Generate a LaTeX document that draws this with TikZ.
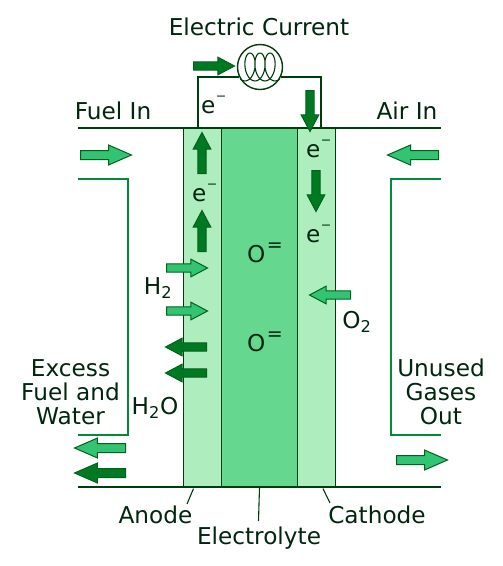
\documentclass[tikz,border=0pt]{standalone}
\usepackage{fontspec}
\setmainfont{DejaVu Sans}
\usetikzlibrary{shapes.arrows}
\definecolor{inkgreen}{HTML}{00260E}
\definecolor{linegreen}{HTML}{003D0C}
\definecolor{wallgreen}{HTML}{008A3A}
\definecolor{layerlight}{HTML}{AEEDBE}
\definecolor{layermid}{HTML}{66D78F}
\definecolor{arrowlight}{HTML}{33C473}
\definecolor{arrowdark}{HTML}{007A22}
\newcommand{\electron}{e\hspace{0.5pt}\raisebox{13pt}{\fontsize{12.5}{12.5}\selectfont −}}
\newcommand{\oxide}{O\hspace{1.5pt}\raisebox{11pt}{\fontsize{19}{19}\selectfont =}}
\begin{document}
\begin{tikzpicture}[
    x=1pt,y=-1pt,
    label/.style={text=inkgreen, font=\fontsize{23.2}{24}\selectfont, inner sep=0pt, align=center},
    charge/.style={label, anchor=base west},
    wire/.style={line width=1.6pt, draw=linegreen},
    thin wire/.style={line width=1.1pt, draw=linegreen},
    wall/.style={line width=1.6pt, draw=wallgreen},
    layer/.style={draw=linegreen, line width=1.2pt, minimum height=359pt, inner sep=0pt},
    flow/.style={
        shape=single arrow,
        anchor=tail,
        draw=arrowdark!80!black,
        line width=1pt,
        inner sep=0pt,
        inner ysep=3.6pt,
        minimum height=41pt,
        minimum width=17pt,
        single arrow head extend=4.7pt,
        single arrow tip angle=56
    },
    gas/.style={flow, fill=arrowlight},
    prod/.style={flow, fill=arrowdark},
    long/.style={
        minimum height=51pt,
        minimum width=19pt,
        inner ysep=4pt,
        single arrow head extend=5.5pt,
        single arrow tip angle=47
    }
]
    \useasboundingbox (0,0) rectangle (503,566);

    % cell layers
    \node[layer, fill=layerlight, minimum width=38pt] (anode) at (202.5,307.5) {};
    \node[layer, fill=layerlight, minimum width=38pt] (cathode) at (316.5,307.5) {};
    \node[layer, fill=layermid, minimum width=76pt] (electrolyte) at (259.5,307.5) {};

    % plates and walls
    \coordinate (fuelend) at (78,128);
    \coordinate (airend) at (441,128);
    \coordinate (exitL) at (78,487);
    \coordinate (exitR) at (441,487);
    \draw[wire] (fuelend) -- (airend);
    \draw[wire] (exitL) -- (exitR);
    \draw[wall] (78,179) -- (128,179) -- (128,435) -- (78,435);
    \draw[wall] (441,179) -- (391,179) -- (391,435) -- (441,435);

    % external circuit
    \node[circle, draw=linegreen, line width=1.4pt, fill=white, minimum size=45pt, inner sep=0pt] (meter) at (260,67) {};
    \coordinate (wireL) at (198,128);
    \coordinate (wireR) at (321,128);
    \draw[wire] (wireL) |- (meter.206);
    \draw[wire] (wireR) |- (meter.334);
    \draw[thin wire] plot[smooth, domain=150:1290, samples=80]
        ({240+\x/36-7.5*sin(\x)}, {67-14*cos(\x)});

    % electron arrows
    \node[prod] (arrowtop) at (193,66) {};
    \node[prod, rotate=-90] (arrowin) at (310,90) {};
    \node[prod, rotate=90] (arrowup1) at (202,174) {};
    \node[prod, rotate=90] (arrowup2) at (202,252) {};
    \node[prod, rotate=-90] (arrowdown) at (316,170) {};

    % gas arrows
    \node[gas] (h2a) at (166,268) {};
    \node[gas] (h2b) at (166,311) {};
    \node[prod, rotate=180] (wa) at (207,347) {};
    \node[prod, rotate=180] (wb) at (207,373) {};
    \node[gas, rotate=180] (o2arrow) at (351,295) {};
    \node[gas, long] (fuelarrow) at (80,155) {};
    \node[gas, long, rotate=180] (airarrow) at (439,155) {};
    \node[gas, long, rotate=180] (outa) at (126,448) {};
    \node[prod, long, rotate=180] (outb) at (126,473) {};
    \node[gas, long] (outc) at (396,460) {};

    % labels
    \node[label] (current) at (259,27) {Electric Current};
    \node[label] (fuelin) at (113,111) {Fuel In};
    \node[label] (airin) at (407,111) {Air In};
    \node[charge] (e1) at (201,113) {\electron};
    \node[charge] (e2) at (306,157) {\electron};
    \node[charge] (e3) at (192,201) {\electron};
    \node[charge] (e4) at (306,242) {\electron};
    \node[charge] (o1) at (247,262) {\oxide};
    \node[charge] (o2) at (247,351) {\oxide};
    \node[label] (h2) at (158,288) {H\textsubscript{2}};
    \node[label] (o2gas) at (357,322) {O\textsubscript{2}};
    \node[label] (h2o) at (155,408) {H\textsubscript{2}O};
    \node[label] (excess) at (70.5,392) {Excess\\Fuel and\\Water};
    \node[label] (unused) at (441,392) {Unused\\Gases\\Out};
    \node[label] (anodetext) at (155.5,515) {Anode};
    \node[label] (electext) at (259,538) {Electrolyte};
    \node[label] (cathtext) at (377,515) {Cathode};

    % leaders
    \draw[thin wire] (anode.south)++(-9,1) -- (187,504);
    \draw[thin wire] (electrolyte.south) -- (258.5,521);
    \draw[thin wire] (cathode.south)++(6.5,1) -- (330,503);
\end{tikzpicture}
\end{document}
